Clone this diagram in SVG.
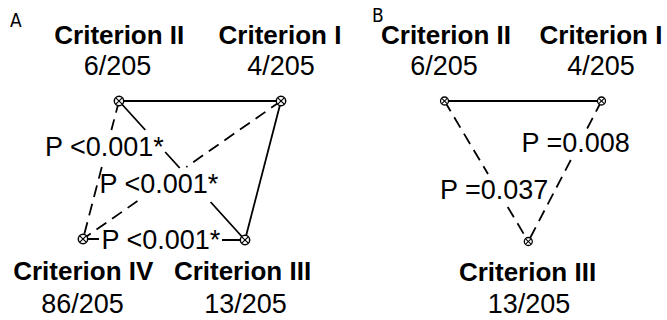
<svg xmlns="http://www.w3.org/2000/svg" width="667" height="320" viewBox="0 0 667 320">
<style>
.bg{fill:#fff}
.ln{stroke:#000;stroke-width:1.8;fill:none}
.ds{stroke-dasharray:12 7}
.crit{font-family:"Liberation Sans",Arial,sans-serif;font-weight:bold;font-size:26px;text-anchor:middle;fill:#000}
.frac{font-family:"Liberation Sans",Arial,sans-serif;font-size:27px;text-anchor:middle;fill:#000}
.pl{font-family:"Liberation Sans",Arial,sans-serif;font-size:27px;fill:#000}
.panel{font-family:"DejaVu Sans",sans-serif;font-stretch:condensed;font-size:19px;fill:#000}
.mk circle{fill:#fff;stroke:#000;stroke-width:1.5}
.mk line{stroke:#000;stroke-width:1.2}
</style>
<defs>
<g id="node" class="mk">
<circle cx="0" cy="0" r="4.7"/>
<line x1="-3.2" y1="-3.2" x2="3.2" y2="3.2"/>
<line x1="-3.2" y1="3.2" x2="3.2" y2="-3.2"/>
</g>
</defs>
<rect class="bg" x="0" y="0" width="667" height="320"/>
<text class="panel" x="10" y="27">A</text>
<text class="panel" x="372" y="22">B</text>
<g id="connectors">
<path id="A-II-I" class="ln" d="M119 101 L281 101"/>
<path id="A-I-III" class="ln" d="M281 101 L245 240"/>
<path id="A-II-III" class="ln" d="M119 101 L145.3 130 M165.2 152 L179.7 168 M210.6 202 L245 240"/>
<path id="A-IV-III" class="ln" d="M83 239 L99 239 M222 240 L245 240"/>
<path id="A-I-IV" class="ln ds" d="M281 101 L186.3 167 M137.5 201 L83 239"/>
<path id="A-II-IV" class="ln ds" d="M119 101 L111.4 130 M101.8 167 L83 239"/>
<path id="B-II-I" class="ln" d="M444.5 101 L601.5 101"/>
<path id="B-II-III" class="ln ds" d="M444.5 101 L488 174 M507.7 207 L528.3 241.5"/>
<path id="B-I-III" class="ln ds" d="M601.5 101 L586.9 129 M570.8 160 L528.3 241.5"/>
</g>
<g id="edge-labels">
<text class="pl" x="45" y="155.5">P &lt;0.001*</text>
<text class="pl" x="99.5" y="192.5">P &lt;0.001*</text>
<text class="pl" x="101.5" y="248.5">P &lt;0.001*</text>
<text class="pl" x="521.5" y="151.5">P =0.008</text>
<text class="pl" x="440" y="198.5">P =0.037</text>
</g>
<g id="A-criterion-II">
<use href="#node" x="119" y="101"/>
<text class="crit" x="119.3" y="43.5">Criterion II</text>
<text class="frac" x="117.5" y="75">6/205</text>
</g>
<g id="A-criterion-I">
<use href="#node" x="281" y="101"/>
<text class="crit" x="280" y="43.5">Criterion I</text>
<text class="frac" x="281" y="75">4/205</text>
</g>
<g id="A-criterion-IV">
<use href="#node" x="83" y="239"/>
<text class="crit" x="83.3" y="280">Criterion IV</text>
<text class="frac" x="82.5" y="312.5">86/205</text>
</g>
<g id="A-criterion-III">
<use href="#node" x="245" y="240"/>
<text class="crit" x="242.5" y="280">Criterion III</text>
<text class="frac" x="245.5" y="312.5">13/205</text>
</g>
<g id="B-criterion-II">
<use href="#node" transform="translate(444.5 101) scale(0.85)"/>
<text class="crit" x="446" y="43.5">Criterion II</text>
<text class="frac" x="444" y="75">6/205</text>
</g>
<g id="B-criterion-I">
<use href="#node" transform="translate(601.5 101) scale(0.85)"/>
<text class="crit" x="601" y="43.5">Criterion I</text>
<text class="frac" x="601" y="75">4/205</text>
</g>
<g id="B-criterion-III">
<use href="#node" transform="translate(528.3 241.5) scale(0.85)"/>
<text class="crit" x="527.5" y="281">Criterion III</text>
<text class="frac" x="529" y="312.5">13/205</text>
</g>
</svg>
